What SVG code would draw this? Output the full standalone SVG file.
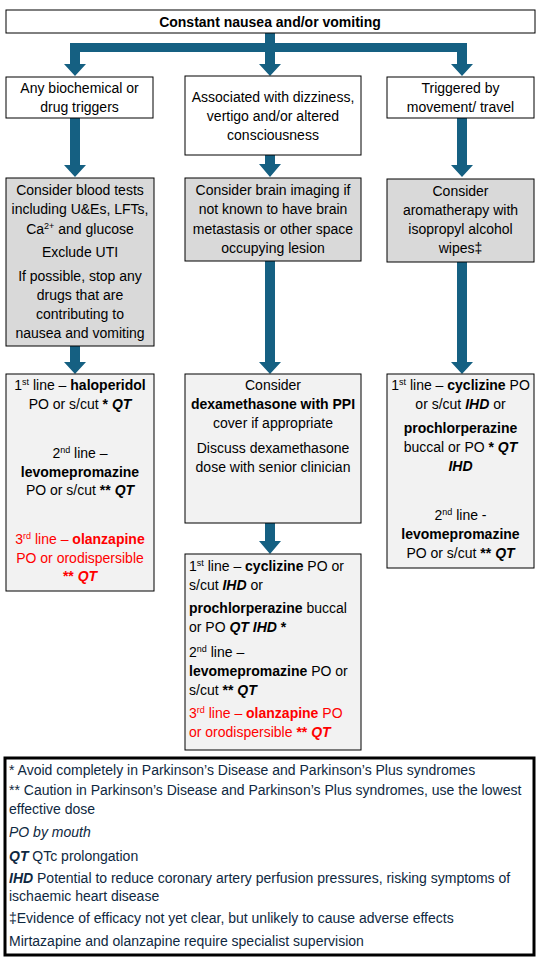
<svg xmlns="http://www.w3.org/2000/svg" width="540" height="960" viewBox="0 0 540 960">
<style>
text{font-family:"Liberation Sans",Arial,sans-serif;font-size:14px;fill:#000}
.c{text-anchor:middle}
.b{font-weight:bold}
.bi{font-weight:bold;font-style:italic}
.i{font-style:italic}
.r{fill:#ff0000}
.sup{font-size:9px}
.box{fill:#fff;stroke:#000;stroke-width:1}
.grey{fill:#d9d9d9;stroke:#000;stroke-width:1}
.light{fill:#f2f2f2;stroke:#000;stroke-width:1}
.arr{fill:#156082;stroke:none}
.leg text{font-size:14px;fill:#0e2841}
</style>
<rect width="540" height="960" fill="#fff"/>

<g id="connectors">
<path class="arr" d="M265,33 H275 V43 H467 V64 H473 L462,76 L451,64 H457 V52 H275 V64 H281 L270,76 L259,64 H265 V52 H80 V64 H86 L75,76 L64,64 H70 V43 H265 Z"/>
<polygon class="arr" points="70,118 80,118 80,165 86,165 75,177 64,165 70,165"/>
<polygon class="arr" points="265,155 275,155 275,164 281,164 270,177 259,164 265,164"/>
<polygon class="arr" points="457,118 467,118 467,165 473,165 462,177 451,165 457,165"/>
<polygon class="arr" points="70,346 80,346 80,362 86,362 75,374 64,362 70,362"/>
<polygon class="arr" points="265,261 275,261 275,362 281,362 270,374 259,362 265,362"/>
<polygon class="arr" points="457,262 467,262 467,362 473,362 462,374 451,362 457,362"/>
<polygon class="arr" points="265,523 275,523 275,541 281,541 270,554 259,541 265,541"/>
</g>

<g id="start">
<rect class="box" x="6" y="10" width="529" height="23"/>
<text class="c b" x="270" y="27">Constant nausea and/or vomiting</text>
</g>

<g id="biochemical">
<rect class="box" x="6" y="77" width="147" height="41"/>
<text class="c" x="79.5" y="93">Any biochemical or</text>
<text class="c" x="79.5" y="112">drug triggers</text>
</g>

<g id="dizziness">
<rect class="box" x="185" y="76" width="176" height="79"/>
<text class="c" x="273" y="102">Associated with dizziness,</text>
<text class="c" x="273" y="121">vertigo and/or altered</text>
<text class="c" x="273" y="140">consciousness</text>
</g>

<g id="movement">
<rect class="box" x="387" y="77" width="147" height="41"/>
<text class="c" x="460.5" y="93">Triggered by</text>
<text class="c" x="460.5" y="112">movement/ travel</text>
</g>

<g id="bloodtests">
<rect class="grey" x="6" y="178" width="148" height="168"/>
<text class="c" x="80" y="195">Consider blood tests</text>
<text class="c" x="80" y="214">including U&amp;Es, LFTs,</text>
<text class="c" x="80" y="234">Ca<tspan class="sup" dy="-5">2+</tspan><tspan dy="5"> and glucose</tspan></text>
<text class="c" x="80" y="257">Exclude UTI</text>
<text class="c" x="80" y="281">If possible, stop any</text>
<text class="c" x="80" y="300">drugs that are</text>
<text class="c" x="80" y="319">contributing to</text>
<text class="c" x="80" y="338">nausea and vomiting</text>
</g>

<g id="brainimaging">
<rect class="grey" x="185" y="178" width="176" height="83"/>
<text class="c" x="273" y="195">Consider brain imaging if</text>
<text class="c" x="273" y="214">not known to have brain</text>
<text class="c" x="273" y="234">metastasis or other space</text>
<text class="c" x="273" y="253">occupying lesion</text>
</g>

<g id="aromatherapy">
<rect class="grey" x="387" y="179" width="147" height="83"/>
<text class="c" x="460.5" y="196">Consider</text>
<text class="c" x="460.5" y="215">aromatherapy with</text>
<text class="c" x="460.5" y="234">isopropyl alcohol</text>
<text class="c" x="460.5" y="253">wipes‡</text>
</g>

<g id="haloperidol">
<rect class="light" x="6" y="374" width="148" height="217"/>
<text class="c" x="80" y="390">1<tspan class="sup" dy="-5">st</tspan><tspan dy="5"> line – </tspan><tspan class="b">haloperidol</tspan></text>
<text class="c" x="80" y="409">PO or s/cut <tspan class="b">* </tspan><tspan class="bi">QT</tspan></text>
<text class="c" x="80" y="458">2<tspan class="sup" dy="-5">nd</tspan><tspan dy="5"> line –</tspan></text>
<text class="c b" x="80" y="477">levomepromazine</text>
<text class="c" x="80" y="495">PO or s/cut <tspan class="b">** </tspan><tspan class="bi">QT</tspan></text>
<text class="c r" x="80" y="544">3<tspan class="sup r" dy="-5">rd</tspan><tspan dy="5"> line – </tspan><tspan class="b r">olanzapine</tspan></text>
<text class="c r" x="80" y="563">PO or orodispersible</text>
<text class="c r" x="80" y="581"><tspan class="b r">** </tspan><tspan class="bi r">QT</tspan></text>
</g>

<g id="dexamethasone">
<rect class="light" x="185" y="374" width="176" height="149"/>
<text class="c" x="273" y="390">Consider</text>
<text class="c b" x="273" y="409">dexamethasone with PPI</text>
<text class="c" x="273" y="428">cover if appropriate</text>
<text class="c" x="273" y="453">Discuss dexamethasone</text>
<text class="c" x="273" y="472">dose with senior clinician</text>
</g>

<g id="cyclizine-mid">
<rect class="light" x="185" y="554" width="176" height="196"/>
<text x="189" y="571">1<tspan class="sup" dy="-5">st</tspan><tspan dy="5"> line – </tspan><tspan class="b">cyclizine</tspan> PO or</text>
<text x="189" y="590">s/cut <tspan class="bi">IHD</tspan> or</text>
<text x="189" y="613"><tspan class="b">prochlorperazine</tspan> buccal</text>
<text x="189" y="632">or PO <tspan class="bi">QT IHD</tspan><tspan class="b"> *</tspan></text>
<text x="189" y="657">2<tspan class="sup" dy="-5">nd</tspan><tspan dy="5"> line –</tspan></text>
<text x="189" y="676"><tspan class="b">levomepromazine</tspan> PO or</text>
<text x="189" y="695">s/cut <tspan class="b">** </tspan><tspan class="bi">QT</tspan></text>
<text class="r" x="189" y="718">3<tspan class="sup r" dy="-5">rd</tspan><tspan dy="5"> line – </tspan><tspan class="b r">olanzapine</tspan> PO</text>
<text class="r" x="189" y="737">or orodispersible <tspan class="b r">** </tspan><tspan class="bi r">QT</tspan></text>
</g>

<g id="cyclizine-right">
<rect class="light" x="387" y="374" width="147" height="194"/>
<text class="c" x="460.5" y="390">1<tspan class="sup" dy="-5">st</tspan><tspan dy="5"> line – </tspan><tspan class="b">cyclizine</tspan> PO</text>
<text class="c" x="460.5" y="409">or s/cut <tspan class="bi">IHD</tspan>  or</text>
<text class="c b" x="460.5" y="433">prochlorperazine</text>
<text class="c" x="460.5" y="452">buccal or PO <tspan class="b">*</tspan>  <tspan class="bi">QT</tspan></text>
<text class="c bi" x="460.5" y="471">IHD</text>
<text class="c" x="460.5" y="520">2<tspan class="sup" dy="-5">nd</tspan><tspan dy="5"> line  -</tspan></text>
<text class="c b" x="460.5" y="539">levomepromazine</text>
<text class="c" x="460.5" y="558">PO or s/cut <tspan class="b">** </tspan><tspan class="bi">QT</tspan></text>
</g>

<g id="legend" class="leg">
<rect x="5" y="758" width="529" height="197" fill="#fff" stroke="#000" stroke-width="3"/>
<text x="9" y="775">* Avoid completely in Parkinson’s Disease and Parkinson’s Plus syndromes</text>
<text x="9" y="795">** Caution in Parkinson’s Disease and Parkinson’s Plus syndromes, use the lowest</text>
<text x="9" y="814">effective dose</text>
<text class="i" x="9" y="837">PO by mouth</text>
<text x="9" y="861"><tspan class="bi">QT</tspan> QTc prolongation</text>
<text x="9" y="883"><tspan class="bi">IHD</tspan> Potential to reduce coronary artery perfusion pressures, risking symptoms of</text>
<text x="9" y="901">ischaemic heart disease</text>
<text x="9" y="923">‡Evidence of efficacy not yet clear, but unlikely to cause adverse effects</text>
<text x="9" y="946">Mirtazapine and olanzapine require specialist supervision</text>
</g>
</svg>
